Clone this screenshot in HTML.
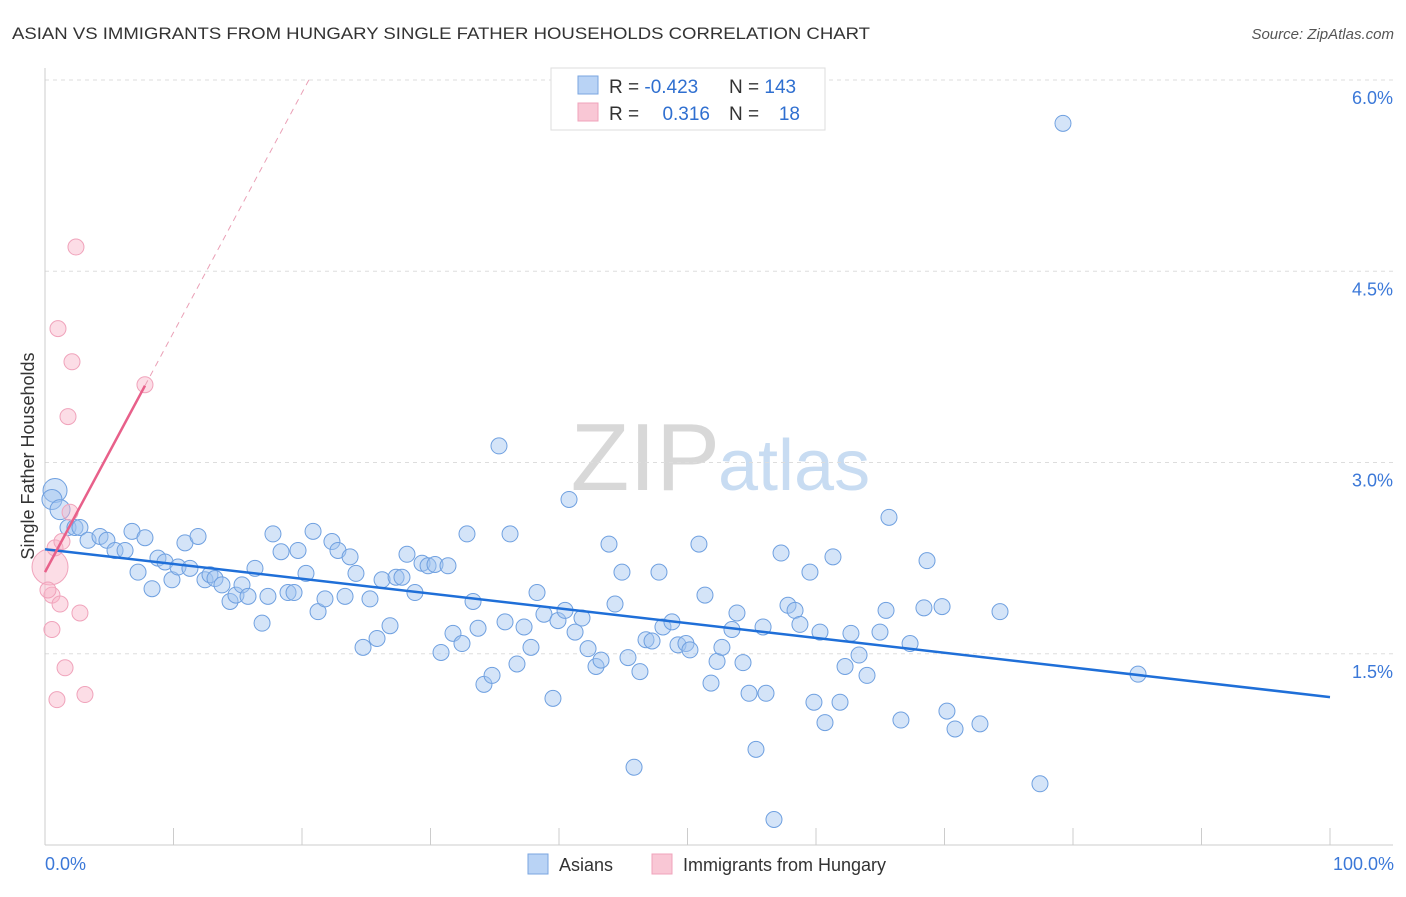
<!DOCTYPE html>
<html><head><meta charset="utf-8"><style>
body{margin:0;background:#fff;font-family:"Liberation Sans",sans-serif;}
svg text{font-family:"Liberation Sans",sans-serif;}
</style></head><body>
<svg id="chart" width="1406" height="892" viewBox="0 0 1406 892" xmlns="http://www.w3.org/2000/svg">
<text x="12" y="39" font-size="17" fill="#333" textLength="858" lengthAdjust="spacingAndGlyphs">ASIAN VS IMMIGRANTS FROM HUNGARY SINGLE FATHER HOUSEHOLDS CORRELATION CHART</text>
<text x="1394" y="39" font-size="15" fill="#555" font-style="italic" text-anchor="end">Source: ZipAtlas.com</text>
<text x="720" y="490" font-size="96" fill="#d8d8d8" text-anchor="end" font-family="Liberation Serif">ZIP</text>
<text x="718" y="490" font-size="72" fill="#c8dcf2">atlas</text>
<g id="grid"></g>
<g id="axes"></g>
<g id="marks"></g>
<text x="34" y="456" font-size="18" fill="#333" text-anchor="middle" transform="rotate(-90 34 456)">Single Father Households</text>
<text x="45" y="870" font-size="18" fill="#3b78d8">0.0%</text>
<text x="1394" y="870" font-size="18" fill="#3b78d8" text-anchor="end">100.0%</text>
<g>
<rect x="551" y="68" width="274" height="62" fill="#fff" stroke="#ddd"/>
<rect x="578" y="76" width="20" height="18" fill="#b9d3f5" stroke="#7aa6e0"/>
<rect x="578" y="103" width="20" height="18" fill="#f9c7d5" stroke="#f0a3bb"/>
<text x="609" y="93" font-size="19" fill="#333">R = <tspan fill="#2f6fd0">-0.423</tspan></text>
<text x="729" y="93" font-size="19" fill="#333">N = <tspan fill="#2f6fd0">143</tspan></text>
<text x="609" y="120" font-size="19" fill="#333">R = </text>
<text x="710" y="120" font-size="19" fill="#2f6fd0" text-anchor="end">0.316</text>
<text x="729" y="120" font-size="19" fill="#333">N = </text>
<text x="800" y="120" font-size="19" fill="#2f6fd0" text-anchor="end">18</text>
</g>
<g>
<rect x="528" y="854" width="20" height="20" fill="#b9d3f5" stroke="#7aa6e0"/>
<text x="559" y="871" font-size="18" fill="#333">Asians</text>
<rect x="652" y="854" width="20" height="20" fill="#f9c7d5" stroke="#f0a3bb"/>
<text x="683" y="871" font-size="18" fill="#333">Immigrants from Hungary</text>
</g>
</svg>
<script>
const yTicks=[1.5,3.0,4.5,6.0];
const yTickLabels=["1.5%","3.0%","4.5%","6.0%"];
const xTicks=[0,10,20,30,40,50,60,70,80,90,100];
const asianX=[0.78,0.54,1.17,1.79,2.33,2.72,3.35,4.28,4.82,5.45,6.23,6.77,7.78,7.24,8.33,8.79,9.34,9.88,10.35,10.89,11.28,11.91,12.45,12.84,13.23,13.77,14.40,14.86,15.33,15.80,16.34,16.89,17.35,17.74,18.37,18.91,19.38,19.69,20.31,20.86,21.25,21.79,22.33,22.80,23.35,23.74,24.20,24.75,25.29,25.84,26.23,26.85,27.32,27.78,28.17,28.79,29.34,29.81,30.35,30.82,31.36,31.75,32.45,32.84,33.31,33.70,34.16,34.79,35.33,35.80,36.19,36.73,37.28,37.82,38.29,38.83,39.53,39.92,40.47,40.78,41.25,41.79,42.26,42.88,43.27,43.89,44.36,44.90,45.37,45.84,46.30,46.77,47.24,47.78,48.09,48.79,49.26,49.88,50.19,50.89,51.36,51.83,52.30,52.68,53.46,53.85,54.32,54.79,55.33,56.11,55.88,56.73,57.28,57.82,58.37,58.75,59.53,59.84,60.31,60.70,61.32,61.87,62.26,62.72,63.35,63.97,64.98,65.45,65.68,66.61,67.32,68.40,68.64,69.81,70.19,70.82,72.76,74.32,77.43,79.22,85.06];
const asianY=[2.78,2.71,2.63,2.49,2.49,2.49,2.39,2.42,2.39,2.31,2.31,2.46,2.41,2.14,2.01,2.25,2.22,2.08,2.18,2.37,2.17,2.42,2.08,2.12,2.09,2.04,1.91,1.96,2.04,1.95,2.17,1.74,1.95,2.44,2.30,1.98,1.98,2.31,2.13,2.46,1.83,1.93,2.38,2.31,1.95,2.26,2.13,1.55,1.93,1.62,2.08,1.72,2.10,2.10,2.28,1.98,2.21,2.19,2.20,1.51,2.19,1.66,1.58,2.44,1.91,1.70,1.26,1.33,3.13,1.75,2.44,1.42,1.71,1.55,1.98,1.81,1.15,1.76,1.84,2.71,1.67,1.78,1.54,1.40,1.45,2.36,1.89,2.14,1.47,0.61,1.36,1.61,1.60,2.14,1.71,1.75,1.57,1.58,1.53,2.36,1.96,1.27,1.44,1.55,1.69,1.82,1.43,1.19,0.75,1.19,1.71,0.20,2.29,1.88,1.84,1.73,2.14,1.12,1.67,0.96,2.26,1.12,1.40,1.66,1.49,1.33,1.67,1.84,2.57,0.98,1.58,1.86,2.23,1.87,1.05,0.91,0.95,1.83,0.48,5.66,1.34];
const hungaryX=[0.39,0.54,0.54,0.93,1.01,1.17,1.79,2.10,2.41,2.72,3.11,1.56,0.78,1.32,1.95,7.78,0.23];
const hungaryY=[2.18,1.96,1.69,1.14,4.05,1.89,3.36,3.79,4.69,1.82,1.18,1.39,2.33,2.38,2.61,3.61,2.00];
const asianTrend=[2.32,1.16];
const hungaryTrend=[2.14,0.188];

const NS="http://www.w3.org/2000/svg";
const X0=45,X1=1330,Y0=845,YPER=127.5;
function sx(v){return X0+(X1-X0)*v/100;}
function sy(v){return Y0-v*YPER;}
function mk(tag,attrs,parent){const e=document.createElementNS(NS,tag);for(const k in attrs)e.setAttribute(k,attrs[k]);parent.appendChild(e);return e;}
const grid=document.getElementById('grid'),axes=document.getElementById('axes'),marks=document.getElementById('marks');
yTicks.forEach((t,i)=>{
  const l=mk('line',{x1:45,x2:1393,y1:sy(t),y2:sy(t),stroke:'#ddd','stroke-dasharray':'4,4'},grid);
  
  
  const tx=mk('text',{x:1393,y:sy(t)+24,'font-size':18,fill:'#3b78d8','text-anchor':'end'},grid);
  tx.textContent=yTickLabels[i];
  
  
});
const ya=mk('line',{x1:45,x2:45,y1:68,y2:845,stroke:'#ccc'},axes);


const xa=mk('line',{x1:45,x2:1393,y1:845,y2:845,stroke:'#ccc'},axes);


xTicks.forEach(t=>{
  const l=mk('line',{x1:sx(t),x2:sx(t),y1:828,y2:845,stroke:'#ccc'},axes);
  
  
});
asianX.forEach((x,i)=>{
  const c=mk('circle',{cx:sx(x),cy:sy(asianY[i]),r:i<3?(i==0?12:10):8,fill:'rgba(160,196,240,0.45)',stroke:'#6fa0e0','stroke-width':1},marks);
  
  
});
hungaryX.forEach((x,i)=>{
  const c=mk('circle',{cx:sx(x),cy:sy(hungaryY[i]),r:i==0?18:8,fill:'rgba(248,180,200,0.45)',stroke:'#f0a3bb','stroke-width':1},marks);
  
  
});
const bt=mk('line',{x1:sx(0),y1:sy(asianTrend[0]),x2:sx(100),y2:sy(asianTrend[1]),stroke:'#1f6fd8','stroke-width':2.5},marks);


const xmaxH=Math.max(...hungaryX);
const pt=mk('line',{x1:sx(0),y1:sy(hungaryTrend[0]),x2:sx(xmaxH),y2:sy(hungaryTrend[0]+hungaryTrend[1]*xmaxH),stroke:'#e8608a','stroke-width':2.5},marks);


const xd=(6.02-hungaryTrend[0])/hungaryTrend[1];
const pd=mk('line',{x1:sx(xmaxH),y1:sy(hungaryTrend[0]+hungaryTrend[1]*xmaxH),x2:sx(xd),y2:sy(6.02),stroke:'#eaa0b6','stroke-width':1,'stroke-dasharray':'6,5'},marks);


</script>
</body></html>
